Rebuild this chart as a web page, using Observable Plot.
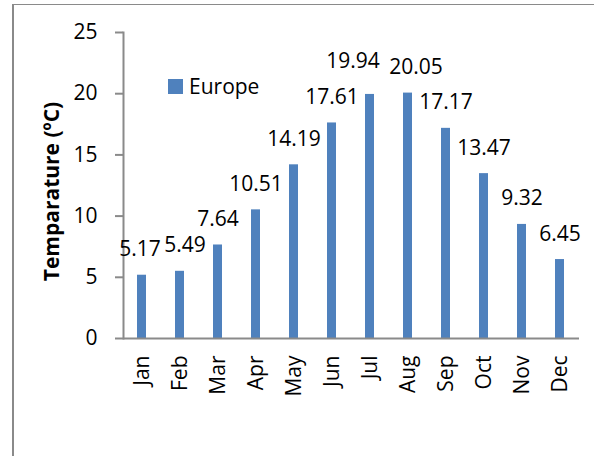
<!DOCTYPE html>
<html>
<head>
<meta charset="utf-8">
<script src="https://cdn.jsdelivr.net/npm/d3@7"></script>
<script src="https://cdn.jsdelivr.net/npm/@observablehq/plot@0.6"></script>
<style>
  html, body { margin: 0; padding: 0; background: #fff; }
  #wrap { position: relative; width: 594px; height: 456px; overflow: hidden; font-family: "Open Sans", sans-serif; }
  #border { position: absolute; left: 12px; top: 4px; width: 700px; height: 600px; border-left: 2px solid #8a8a8a; border-top: 1px solid #8a8a8a; }
  #chart { position: absolute; left: 0; top: 0; }
  #legend { position: absolute; left: 0; top: 0; }
</style>
</head>
<body>
<div id="wrap">
  <div id="border"></div>
  <div id="chart"></div>
  <svg id="legend" width="594" height="456"></svg>
</div>
<script>
const months = ["Jan", "Feb", "Mar", "Apr", "May", "Jun", "Jul", "Aug", "Sep", "Oct", "Nov", "Dec"];
const temps = [5.17, 5.49, 7.64, 10.51, 14.19, 17.61, 19.94, 20.05, 17.17, 13.47, 9.32, 6.45];
const yTicks = [0, 5, 10, 15, 20, 25];
const seriesName = "Europe";
const yLabel = "Temparature (ºC)";

const data = months.map((m, i) => ({month: m, temp: temps[i]}));

// label placement nudges (styling, Excel-style overlap avoidance)
const nudge = {Jan: [-2, 0], Feb: [5, 0], Jul: [-17, -7], Aug: [8, 0]};

const barColor = "#4F81BD";
const axisColor = "#8a8a8a";
const font = "'Open Sans', sans-serif";

const labelMarks = months.map(m => {
  const [ndx, ndy] = nudge[m] || [0, 0];
  return Plot.text(data.filter(d => d.month === m), {
    x: "month", y: "temp", text: d => d.temp.toFixed(2),
    lineAnchor: "bottom", dy: -19 + ndy, dx: ndx,
    fontSize: 21, fill: "black"
  });
});

const chart = Plot.plot({
  width: 594,
  height: 456,
  marginLeft: 123,
  marginRight: 15,
  marginTop: 32,
  marginBottom: 118,
  style: {fontFamily: font, fontSize: "21px", color: "black", background: "transparent"},
  x: {domain: months, paddingInner: 0.76, paddingOuter: 0.38, label: null},
  y: {domain: [0, 25], label: null},
  marks: [
    Plot.barY(data, {x: "month", y: "temp", fill: barColor}),
    Plot.frame({anchor: "left", stroke: axisColor, strokeWidth: 2}),
    Plot.ruleY([0], {stroke: axisColor, strokeWidth: 2}),
    Plot.axisY(yTicks, {tickSize: 8, tickPadding: 18, stroke: axisColor, strokeWidth: 2, fill: "black", fontSize: 21, label: null}),
    Plot.axisX({tickSize: 0, tickPadding: 17, tickRotate: -90, fill: "black", fontSize: 21, label: null}),
    Plot.text([yLabel], {frameAnchor: "left", textAnchor: "middle", lineAnchor: "middle", rotate: -90, dx: -71, dy: 6, fontWeight: "bold", fontSize: 21, fill: "black"}),
    ...labelMarks
  ]
});
document.getElementById("chart").appendChild(chart);

// legend
const lg = d3.select("#legend");
lg.append("rect").attr("x", 168).attr("y", 79).attr("width", 15).attr("height", 15).attr("fill", barColor);
lg.append("text").attr("x", 189).attr("y", 94).attr("font-family", font).attr("font-size", 21).attr("fill", "black").text(seriesName);
</script>
</body>
</html>
